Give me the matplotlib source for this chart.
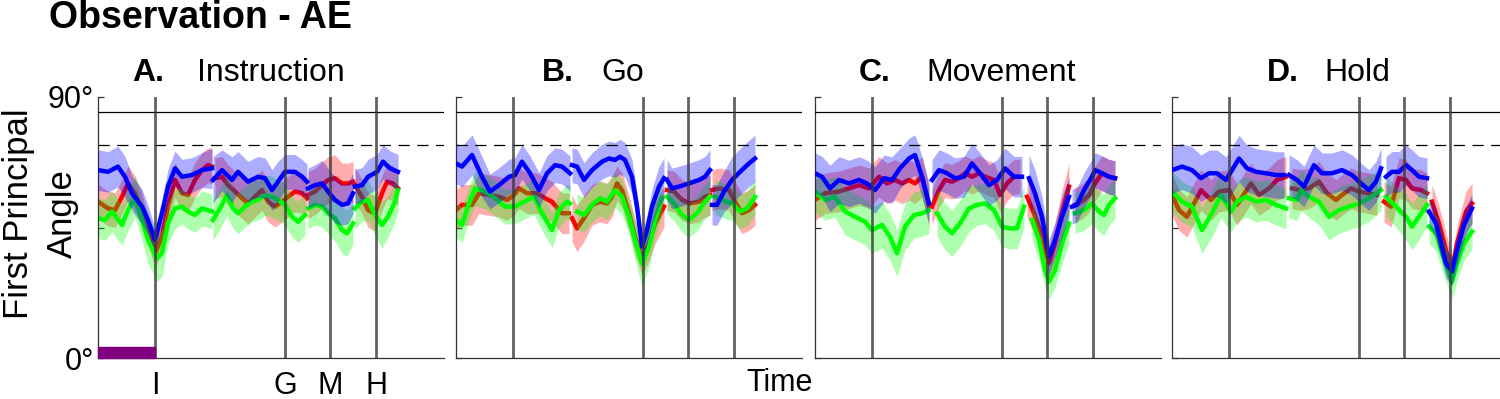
import matplotlib.pyplot as plt
import numpy as np
from matplotlib.patches import Rectangle

plt.rcParams['font.family'] = ['Liberation Sans', 'DejaVu Sans']

# time axis (samples); events I, G, M, H and edges of the event-aligned pieces
events = [57, 187, 232, 278]
event_labels = ['I', 'G', 'M', 'H']
seg_edges = [115, 209.5, 255.5]
x_end = 346
max_angle = 85
chance_angle = 73.5

letters = ['A.', 'B.', 'C.', 'D.']
titles = ['Instruction', 'Go', 'Movement', 'Hold']

#### Panel A - Instruction ##########################################
A_t_red = [0, 10, 17, 24, 30, 37, 44, 50, 57, 64, 70, 77, 84, 90, 97, 104, 110, 114,
           117, 124, 130, 137, 144, 150, 157, 164, 170, 177, 184, 190, 197, 204, 209,
           210, 217, 224, 230, 237, 244, 250, 255,
           257, 264, 270, 277, 284, 289, 295, 300]
A_red = [53.9, 51.6, 51.0, 55.6, 60.2, 56.8, 51.0, 44.1, 36.1, 41.8, 52.2, 61.4, 56.8, 56.2, 61.4, 64.8, 66.5, 66.0,
         62.0, 62.5, 59.6, 57.4, 55.1, 53.3, 55.6, 57.9, 53.9, 52.2, 53.9, 55.6, 57.4, 56.8, 55.1,
         56.2, 57.4, 59.6, 61.4, 62.0, 60.2, 60.2, 60.8,
         59.6, 55.6, 51.0, 49.9, 56.8, 60.8, 60.2, 58.5]
A_red_sd = [6, 6, 6, 6, 6, 6, 6, 5, 5, 5, 6, 6, 6, 6, 6, 6, 6, 6,
            7, 7, 7, 7, 7, 7, 7, 7, 7, 7, 7, 7, 7, 7, 7,
            8, 8, 8, 8, 8, 7, 7, 7,
            6, 6, 6, 6, 6, 6, 6, 6]
A_t_green = [0, 7, 14, 24, 30, 37, 44, 50, 59, 64, 70, 77, 84, 90, 97, 104, 114,
             115, 122, 129, 135, 140, 147, 154, 160, 167, 174, 180, 187, 194, 200, 207,
             210, 217, 224, 230, 237, 244, 249, 255,
             257, 264, 270, 277, 284, 290, 297, 300]
A_green = [48.2, 47.6, 50.5, 45.9, 51.0, 55.6, 47.6, 40.7, 34.4, 36.1, 46.4, 51.6, 52.2, 50.5, 49.3, 51.6, 50.5,
           47.6, 51.6, 56.2, 51.6, 49.9, 52.2, 53.9, 54.5, 56.2, 55.6, 54.5, 52.8, 48.7, 47.0, 49.3,
           51.6, 52.8, 52.2, 49.9, 48.2, 44.1, 43.0, 46.4,
           51.6, 53.9, 54.5, 49.3, 45.9, 48.7, 53.9, 57.9]
A_green_sd = [7, 7, 7, 7, 7, 7, 7, 8, 8, 8, 7, 7, 6, 6, 6, 6, 6,
              7, 7, 7, 7, 7, 7, 7, 7, 7, 7, 7, 7, 7, 7, 7,
              7, 7, 7, 7, 8, 8, 8, 7,
              7, 7, 7, 7, 8, 7, 7, 7]
A_t_blue = [0, 10, 20, 27, 34, 44, 50, 57, 64, 70, 77, 84, 94, 104, 114,
            115, 124, 134, 140, 150, 160, 167, 174, 180, 187, 197, 204, 209,
            210, 217, 224, 230, 237, 244, 250, 255,
            257, 264, 270, 279, 285, 292, 300]
A_blue = [64.8, 64.2, 66.0, 62.5, 56.8, 52.2, 47.6, 40.7, 49.9, 59.1, 65.4, 62.5, 63.1, 64.8, 65.4,
          61.4, 64.8, 61.4, 64.2, 60.8, 62.5, 62.0, 57.9, 60.8, 64.2, 64.2, 62.5, 60.8,
          58.5, 59.6, 60.2, 57.4, 54.5, 52.8, 53.3, 56.8,
          59.1, 59.6, 62.5, 64.2, 67.7, 65.4, 64.2]
A_blue_sd = [7, 7, 7, 7, 6, 6, 5, 4, 5, 6, 6, 6, 6, 6, 7,
             8, 7, 8, 7, 7, 7, 7, 7, 7, 6, 6, 6, 6,
             7, 7, 8, 8, 8, 7, 7, 7,
             6, 6, 6, 6, 6, 6, 6]

#### Panel B - Go ###################################################
B_t_red = [0, 6, 16, 23, 33, 43, 51, 58, 63, 71, 81, 89, 96, 106, 113,
           116, 121, 128, 136, 144, 151, 156, 161, 166, 173, 179, 186, 193, 199, 208,
           211, 218, 226, 234, 243, 249, 254,
           256, 263, 273, 279, 286, 293, 299]
B_red = [51.0, 52.8, 52.8, 56.8, 56.2, 55.6, 54.5, 56.2, 58.5, 56.8, 56.8, 55.1, 53.9, 49.9, 49.9,
         48.2, 44.7, 48.2, 52.8, 53.9, 53.3, 55.6, 60.2, 57.9, 49.9, 41.8, 33.8, 39.5, 46.4, 52.2,
         57.9, 57.4, 54.5, 53.3, 53.9, 55.6, 56.2,
         57.9, 58.5, 57.9, 53.9, 49.9, 51.0, 52.8]
B_red_sd = [7, 7, 7, 7, 7, 7, 7, 7, 7, 7, 7, 7, 7, 7, 7,
            8, 8, 8, 7, 7, 7, 7, 6, 6, 6, 6, 5, 6, 7, 7,
            7, 7, 7, 7, 7, 7, 7,
            7, 7, 7, 7, 7, 7, 7]
B_t_green = [0, 6, 13, 19, 29, 39, 49, 59, 68, 78, 86, 96, 103, 111, 114,
             121, 128, 136, 144, 151, 159, 166, 173, 179, 186, 193, 199, 206,
             211, 218, 226, 233, 241, 249, 254,
             259, 266, 276, 284, 291, 299]
B_green = [47.6, 45.9, 53.3, 58.5, 57.4, 55.1, 52.2, 52.2, 53.9, 55.6, 49.9, 44.1, 51.0, 53.9, 53.3,
           50.5, 49.3, 52.8, 55.1, 53.9, 57.9, 55.6, 48.7, 40.7, 32.6, 38.4, 47.6, 55.1,
           55.6, 53.3, 49.3, 47.6, 49.9, 53.9, 55.6,
           55.6, 54.5, 53.3, 50.5, 51.6, 55.6]
B_green_sd = [6, 6, 6, 6, 6, 6, 6, 6, 6, 6, 6, 6, 6, 6, 6,
              6, 6, 6, 6, 6, 6, 6, 6, 7, 8, 7, 6, 6,
              6, 6, 6, 6, 6, 6, 6,
              6, 6, 6, 6, 6, 6]
B_t_blue = [0, 6, 16, 26, 34, 43, 53, 59, 66, 74, 83, 91, 99, 106, 114,
            116, 121, 128, 136, 146, 153, 159, 164, 169, 176, 181, 186, 191, 196, 203, 208,
            211, 216, 223, 233, 243, 249, 254,
            256, 261, 268, 276, 284, 293, 299]
B_blue = [67.1, 66.0, 70.0, 62.5, 57.4, 59.6, 62.5, 63.1, 67.7, 63.7, 57.9, 63.7, 66.5, 66.0, 63.7,
          66.5, 66.0, 61.4, 64.8, 67.7, 68.8, 68.3, 69.4, 68.3, 62.5, 52.2, 38.4, 44.1, 52.2, 59.1, 62.0,
          61.4, 58.5, 59.1, 60.2, 61.4, 62.5, 64.8,
          52.8, 52.8, 57.4, 61.4, 64.2, 67.1, 68.8]
B_blue_sd = [7, 7, 7, 7, 6, 6, 6, 6, 6, 6, 6, 6, 6, 6, 6,
             6, 6, 6, 6, 6, 6, 6, 6, 6, 6, 5, 5, 5, 6, 7, 7,
             7, 7, 7, 7, 7, 7, 7,
             7, 7, 7, 8, 8, 8, 8]

#### Panel C - Movement #############################################
C_t_red = [0, 10, 24, 34, 44, 54, 64, 72, 80, 87, 94, 100, 107, 114,
           117, 124, 130, 137, 144, 150, 157, 164, 170, 179, 185, 192, 199, 205,
           212, 219, 225, 234, 240, 247, 254,
           260, 267, 274, 280, 287, 294, 300]
C_red = [54.5, 56.8, 57.4, 58.5, 59.6, 58.5, 62.5, 60.2, 61.4, 60.2, 61.4, 60.2, 62.5, 52.2,
         52.2, 57.9, 61.4, 60.8, 62.0, 63.7, 62.5, 63.7, 62.5, 61.4, 56.2, 60.2, 62.5, 62.5,
         55.6, 49.9, 44.1, 32.6, 39.5, 49.9, 59.1,
         52.8, 53.9, 56.2, 60.2, 63.7, 62.5, 62.0]
C_red_sd = [7, 7, 7, 7, 7, 7, 7, 7, 7, 7, 7, 7, 7, 7,
            6, 6, 6, 6, 6, 6, 6, 6, 6, 6, 6, 6, 6, 6,
            7, 7, 7, 6, 7, 8, 8,
            6, 6, 6, 6, 6, 6, 6]
C_t_green = [0, 10, 20, 30, 40, 50, 57, 67, 75, 82, 90, 99, 107, 114,
             122, 130, 137, 145, 154, 162, 170, 179, 187, 194, 202, 209,
             217, 224, 230, 234, 240, 247, 254,
             260, 269, 277, 284, 289, 294, 300]
C_green = [57.4, 54.5, 55.6, 50.5, 48.7, 47.0, 44.1, 45.9, 41.8, 36.1, 45.3, 49.3, 49.9, 51.0,
           49.9, 45.3, 43.0, 46.4, 51.6, 52.8, 53.3, 51.0, 45.3, 44.7, 44.7, 52.2,
           47.6, 40.7, 30.3, 26.3, 30.3, 39.5, 46.4,
           49.9, 51.0, 53.3, 50.5, 49.3, 52.8, 55.1]
C_green_sd = [7, 7, 7, 8, 8, 8, 8, 8, 8, 8, 8, 8, 8, 8,
              8, 8, 8, 8, 8, 7, 7, 7, 7, 7, 7, 7,
              7, 7, 6, 6, 6, 7, 7,
              7, 7, 7, 7, 7, 7, 7]
C_t_blue = [0, 7, 15, 24, 34, 44, 52, 60, 69, 77, 85, 94, 100, 107, 114,
            117, 124, 132, 140, 149, 157, 165, 174, 182, 190, 199, 207,
            214, 220, 227, 234, 240, 247, 254,
            257, 262, 269, 277, 280, 287, 294, 300]
C_blue = [63.7, 62.5, 58.5, 61.4, 60.2, 61.4, 60.2, 57.9, 62.0, 61.4, 65.4, 68.8, 70.0, 62.5, 53.3,
          61.4, 64.8, 63.7, 62.0, 62.5, 67.1, 63.7, 59.6, 61.4, 65.4, 62.5, 62.5,
          62.0, 56.8, 48.7, 34.9, 40.7, 48.7, 55.6,
          52.2, 52.8, 57.9, 62.5, 64.8, 63.7, 62.5, 62.0]
C_blue_sd = [7, 7, 8, 8, 8, 8, 8, 8, 8, 8, 7, 7, 7, 7, 7,
             7, 7, 7, 7, 7, 7, 7, 7, 7, 7, 7, 7,
             8, 8, 7, 6, 6, 7, 7,
             6, 6, 6, 6, 6, 6, 6, 6]

#### Panel D - Hold #################################################
D_t_red = [0, 7, 15, 22, 29, 39, 47, 57, 65, 79, 87, 97, 105, 114,
           120, 129, 137, 147, 155, 164, 170, 179, 187, 197, 205,
           212, 219, 227, 234, 240, 249, 255,
           260, 267, 274, 280, 285, 294, 300]
D_red = [56.2, 51.0, 48.7, 53.3, 57.9, 54.5, 57.4, 57.9, 52.8, 60.2, 56.2, 58.5, 61.4, 62.5,
         58.5, 57.9, 58.5, 60.8, 56.8, 54.5, 56.2, 58.5, 57.4, 56.8, 56.2,
         53.9, 52.2, 62.0, 61.4, 58.5, 57.9, 56.8,
         53.9, 46.4, 37.2, 30.3, 39.5, 50.5, 53.3]
D_red_sd = [7, 7, 7, 7, 7, 7, 7, 7, 7, 7, 7, 7, 7, 7,
            7, 7, 7, 7, 7, 7, 7, 7, 7, 7, 7,
            7, 7, 7, 7, 7, 7, 7,
            6, 6, 6, 5, 6, 7, 7]
D_t_green = [0, 10, 20, 30, 40, 49, 59, 65, 74, 84, 94, 104, 114,
             117, 125, 129, 137, 147, 157, 167, 177, 187, 197, 209,
             214, 224, 234, 240, 247, 255,
             257, 264, 270, 280, 285, 292, 300]
D_green = [57.4, 53.9, 52.2, 44.1, 49.9, 56.2, 50.5, 53.9, 55.6, 53.9, 54.5, 52.8, 51.6,
           55.1, 54.5, 57.9, 55.6, 53.9, 48.7, 51.0, 52.2, 53.3, 55.1, 57.9,
           55.6, 52.2, 48.7, 45.3, 48.7, 52.8,
           45.3, 43.0, 36.1, 26.3, 32.6, 39.5, 43.6]
D_green_sd = [7, 7, 7, 8, 8, 8, 7, 7, 7, 7, 7, 7, 7,
              7, 7, 7, 7, 8, 8, 8, 8, 8, 8, 7,
              7, 7, 8, 8, 8, 7,
              6, 6, 6, 6, 6, 6, 6]
D_t_blue = [0, 10, 20, 29, 37, 45, 54, 60, 67, 75, 84, 94, 104, 112,
            117, 125, 132, 142, 150, 160, 170, 180, 189, 197, 204, 209,
            214, 220, 227, 234, 240, 247, 255,
            257, 264, 269, 274, 280, 285, 292, 300]
D_blue = [64.8, 66.0, 64.8, 62.0, 63.7, 63.7, 61.4, 64.8, 68.8, 65.4, 64.2, 63.7, 63.1, 63.1,
          63.1, 61.4, 59.1, 66.5, 63.7, 63.7, 64.8, 63.1, 60.2, 57.9, 60.8, 65.4,
          62.5, 64.2, 64.2, 66.5, 64.8, 62.5, 62.0,
          50.5, 46.4, 39.5, 32.6, 29.8, 37.2, 45.9, 51.6]
D_blue_sd = [8, 8, 8, 8, 8, 8, 8, 8, 8, 8, 8, 8, 8, 8,
             7, 7, 7, 7, 7, 7, 7, 7, 7, 7, 7, 7,
             7, 7, 7, 7, 7, 7, 7,
             5, 5, 5, 5, 5, 5, 5, 5]

panels = [
    [(A_t_red, A_red, A_red_sd), (A_t_green, A_green, A_green_sd), (A_t_blue, A_blue, A_blue_sd)],
    [(B_t_red, B_red, B_red_sd), (B_t_green, B_green, B_green_sd), (B_t_blue, B_blue, B_blue_sd)],
    [(C_t_red, C_red, C_red_sd), (C_t_green, C_green, C_green_sd), (C_t_blue, C_blue, C_blue_sd)],
    [(D_t_red, D_red, D_red_sd), (D_t_green, D_green, D_green_sd), (D_t_blue, D_blue, D_blue_sd)],
]
colors = ['#ff0000', '#00ff00', '#0000ff']


def shaded(ax, t, y, sd, col, z):
    # band first, then its line; later colours sit on top of earlier ones
    t = np.asarray(t, float)
    y = np.asarray(y, float)
    sd = np.asarray(sd, float)
    seg = np.digitize(t, seg_edges)
    for s in range(4):
        m = seg == s
        ax.fill_between(t[m], y[m] - sd[m], y[m] + sd[m], color=col, alpha=0.32, lw=0, zorder=z)
        ax.plot(t[m], y[m], color=col, lw=3.2, zorder=z + 0.5)


W, H = 1500, 399
fig = plt.figure(figsize=(W / 100, H / 100), dpi=100)

lefts = [98, 456, 815, 1172]
top, bottom, width = 97, 358, 346
for i, lx in enumerate(lefts):
    ax = fig.add_axes([lx / W, 1 - bottom / H, width / W, (bottom - top) / H])
    ax.set_xlim(0, x_end)
    ax.set_ylim(0, 90)
    for sp in ['top', 'right']:
        ax.spines[sp].set_visible(False)
    for sp in ['left', 'bottom']:
        ax.spines[sp].set_color('#333333')
        ax.spines[sp].set_linewidth(0.9)

    for k, ((t, y, sd), col) in enumerate(zip(panels[i], colors)):
        shaded(ax, t, y, sd, col, 1 + k)

    ax.axhline(max_angle, color='k', lw=0.9, zorder=5)
    ax.axhline(chance_angle, color='k', lw=0.9, ls=(0, (9, 6)), zorder=5)
    for ev in events:
        ax.axvline(ev, color='#3a3a3a', lw=2.0, alpha=0.8, zorder=6)

    ax.set_yticks([0, 45, 90])
    ax.tick_params(axis='y', direction='in', length=4, width=0.9, color='#333333')
    if i == 0:
        ax.set_yticklabels(['0°', '', '90°'], fontsize=22)
        ax.tick_params(axis='y', pad=3)
        ax.set_xticks(events)
        ax.set_xticklabels(event_labels, fontsize=22)
        ax.tick_params(axis='x', length=0, pad=9)
        ax.add_patch(Rectangle((0, 0), events[0], 3.8, color='#800080',
                               zorder=8, clip_on=False))
    else:
        ax.set_yticklabels([])
        ax.set_xticks([])

# titles
fig.text(200 / W, 1 - 18 / H, 'Observation - AE', fontsize=27, fontweight='bold',
         ha='center', va='center')
letter_x = [148, 558, 875, 1283]
word_x = [271, 623, 1001, 1357]
for lt, wd, lx, wx in zip(letters, titles, letter_x, word_x):
    fig.text(lx / W, 1 - 73 / H, lt, fontsize=23, fontweight='bold', ha='center', va='center')
    fig.text(wx / W, 1 - 73 / H, wd, fontsize=23, ha='center', va='center')

fig.text(19 / W, 1 - 214 / H, 'First Principal', rotation=90, fontsize=25,
         ha='center', va='center')
fig.text(62 / W, 1 - 214 / H, 'Angle', rotation=90, fontsize=25,
         ha='center', va='center')
fig.text(780 / W, 1 - 383 / H, 'Time', fontsize=22, ha='center', va='center')

fig.savefig('out.png', dpi=100)
